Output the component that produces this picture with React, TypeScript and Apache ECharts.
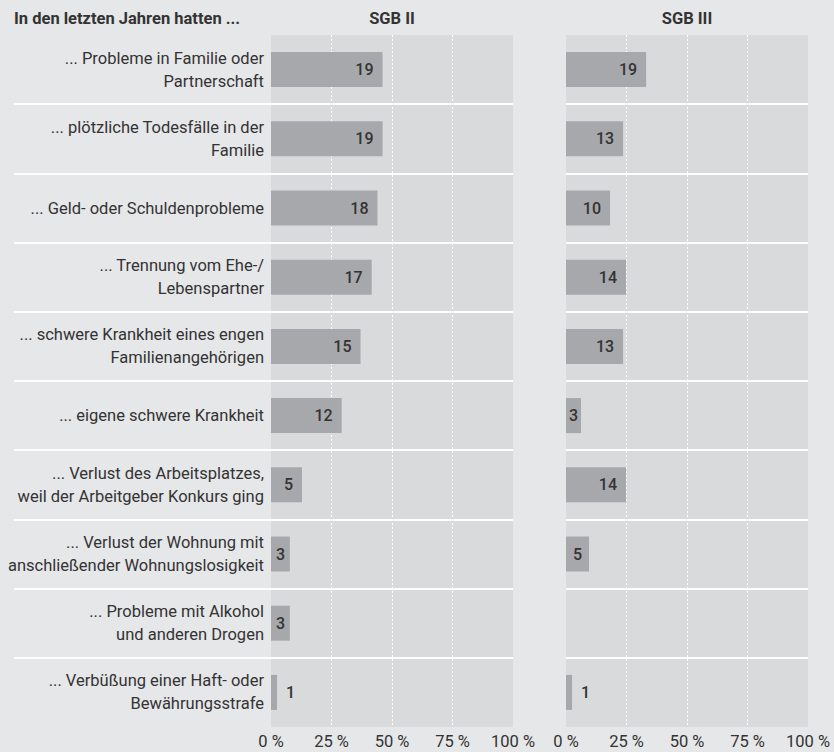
import React, { useEffect, useRef } from "react";
import * as echarts from "echarts";

const categories: string[] = [
  "... Probleme in Familie oder\nPartnerschaft",
  "... plötzliche Todesfälle in der\nFamilie",
  "... Geld- oder Schuldenprobleme",
  "... Trennung vom Ehe-/\nLebenspartner",
  "... schwere Krankheit eines engen\nFamilienangehörigen",
  "... eigene schwere Krankheit",
  "... Verlust des Arbeitsplatzes,\nweil der Arbeitgeber Konkurs ging",
  "... Verlust der Wohnung mit\nanschließender Wohnungslosigkeit",
  "... Probleme mit Alkohol\nund anderen Drogen",
  "... Verbüßung einer Haft- oder\nBewährungsstrafe",
];

const sgb2Bars: (number | null)[] = [46.1, 46.1, 44.0, 41.6, 37.0, 29.2, 12.8, 7.8, 7.8, 2.5];
const sgb3Bars: (number | null)[] = [33.1, 23.6, 18.2, 24.8, 23.6, 6.2, 24.8, 9.5, null, 2.5];
// numbers printed on the bars
const sgb2Labels: (number | null)[] = [19, 19, 18, 17, 15, 12, 5, 3, 3, 1];
const sgb3Labels: (number | null)[] = [19, 13, 10, 14, 13, 3, 14, 5, null, 1];

const tickValues = [0, 25, 50, 75, 100];
const panelTitles = ["SGB II", "SGB III"];
const headerTitle = "In den letzten Jahren hatten ...";

const FONT = "Roboto, 'Open Sans', sans-serif";
const TEXT = "#333333";
const PAGE_BG = "#e6e7e9";
const PANEL_BG = "#d9dadc";
const BAR = "#a7a8ab";

function buildData(bars: (number | null)[], labels: (number | null)[]) {
  return bars.map((v, i) => {
    if (v === null) return { value: null };
    const shown = labels[i];
    let position: any = "insideRight";
    let distance = 9;
    if (shown !== null && shown <= 1) {
      position = "right";
      distance = 9;
    } else if (v < 10) {
      position = "inside";
      distance = 0;
    }
    return {
      value: v,
      label: {
        show: true,
        position,
        distance,
        formatter: () => (shown === null ? "" : String(shown)),
        color: TEXT,
        fontSize: 16,
        fontWeight: 500,
        fontFamily: FONT,
      },
    };
  });
}

export default function App() {
  const ref = useRef<HTMLDivElement>(null);

  useEffect(() => {
    if (!ref.current) return;
    const chart = echarts.init(ref.current, undefined, { renderer: "svg" });

    const gridTop = 35;
    const gridBottom = 25;
    const p1Left = 271;
    const pWidth = 242;
    const p2Left = 566;

    const valueAxis = (gridIndex: number) => ({
      type: "value",
      gridIndex,
      min: 0,
      max: 100,
      interval: 25,
      axisLine: { show: false },
      axisTick: { show: false },
      axisLabel: {
        show: true,
        color: TEXT,
        fontSize: 16.5,
        fontFamily: FONT,
        margin: 6,
        formatter: (v: number) => (tickValues.includes(v) ? `${v} %` : ""),
        showMinLabel: true,
        showMaxLabel: true,
      },
      splitLine: {
        show: true,
        showMinLine: false,
        showMaxLine: false,
        lineStyle: { color: "#ffffff", width: 1, type: [2, 2] },
      },
    });

    const catAxis = (gridIndex: number, showLabels: boolean) => ({
      type: "category",
      gridIndex,
      data: categories,
      inverse: true,
      axisLine: { show: false },
      axisTick: { show: false },
      axisLabel: {
        show: showLabels,
        interval: 0,
        color: TEXT,
        fontSize: 16.5,
        lineHeight: 23,
        fontFamily: FONT,
        margin: 7,
        align: "right",
      },
      splitLine: {
        show: true,
        interval: 0,
        showMinLine: false,
        showMaxLine: false,
        lineStyle: { color: "#ffffff", width: 2 },
      },
    });

    chart.setOption({
      animation: false,
      backgroundColor: PAGE_BG,
      textStyle: { fontFamily: FONT },
      grid: [
        { left: 14, width: p1Left - 14, top: gridTop, bottom: gridBottom, show: false },
        {
          left: p1Left,
          width: pWidth,
          top: gridTop,
          bottom: gridBottom,
          show: true,
          backgroundColor: PANEL_BG,
          borderWidth: 0,
        },
        {
          left: p2Left,
          width: pWidth,
          top: gridTop,
          bottom: gridBottom,
          show: true,
          backgroundColor: PANEL_BG,
          borderWidth: 0,
        },
      ],
      xAxis: [
        { type: "value", gridIndex: 0, min: 0, max: 100, show: false },
        valueAxis(1),
        valueAxis(2),
      ],
      yAxis: [catAxis(0, false), catAxis(1, true), catAxis(2, false)],
      graphic: [
        {
          type: "text",
          x: 14,
          y: 18,
          style: {
            text: headerTitle,
            fill: TEXT,
            font: `bold 16.5px ${FONT}`,
            textAlign: "left",
            textVerticalAlign: "middle",
          },
        },
        {
          type: "text",
          x: p1Left + pWidth / 2,
          y: 18,
          style: {
            text: panelTitles[0],
            fill: TEXT,
            font: `bold 16.5px ${FONT}`,
            textAlign: "center",
            textVerticalAlign: "middle",
          },
        },
        {
          type: "text",
          x: p2Left + pWidth / 2,
          y: 18,
          style: {
            text: panelTitles[1],
            fill: TEXT,
            font: `bold 16.5px ${FONT}`,
            textAlign: "center",
            textVerticalAlign: "middle",
          },
        },
      ],
      series: [
        {
          type: "bar",
          xAxisIndex: 1,
          yAxisIndex: 1,
          barWidth: 35,
          itemStyle: { color: BAR },
          data: buildData(sgb2Bars, sgb2Labels),
        },
        {
          type: "bar",
          xAxisIndex: 2,
          yAxisIndex: 2,
          barWidth: 35,
          itemStyle: { color: BAR },
          data: buildData(sgb3Bars, sgb3Labels),
        },
      ],
    });

    return () => chart.dispose();
  }, []);

  return (
    <div
      ref={ref}
      style={{ position: "absolute", left: 0, top: 0, width: 834, height: 752, background: PAGE_BG }}
    />
  );
}
